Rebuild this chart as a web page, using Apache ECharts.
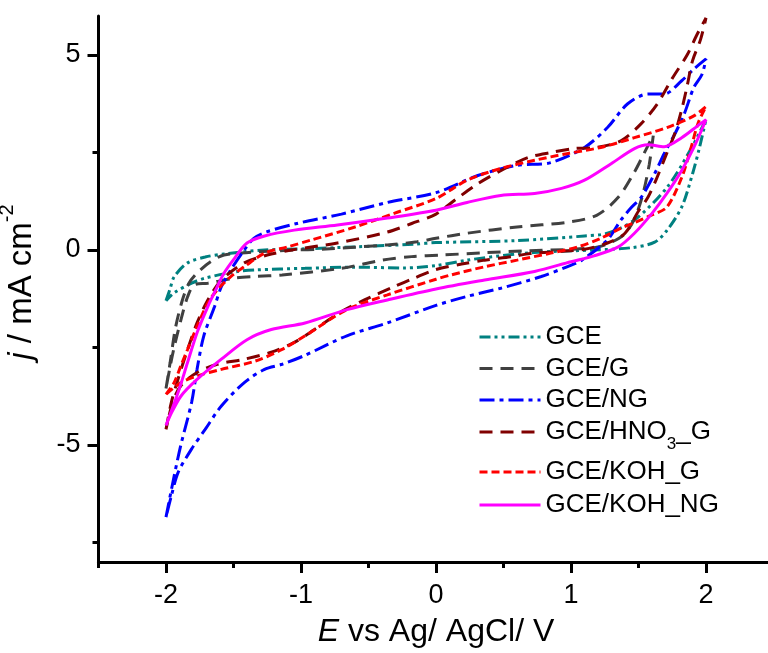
<!DOCTYPE html>
<html><head><meta charset="utf-8">
<script src="https://cdn.jsdelivr.net/npm/echarts@6/dist/echarts.min.js"></script>
<style>html,body{margin:0;padding:0;background:#fff}#c{width:768px;height:653px}</style>
</head><body><div id="c"></div>
<script>
// ---- data (E in V, j in mA cm^-2), each loop: forward scan then reverse scan ----
const seriesNames = ['GCE', 'GCE/G', 'GCE/NG', 'GCE/HNO3_G', 'GCE/KOH_G', 'GCE/KOH_NG'];

const gceE = [-2.0,-1.97,-1.94,-1.84,-1.71,-1.57,-1.27,-0.97,-0.6,-0.16,0.0,0.6,1.1,1.27,1.47,1.71,1.89,2.0,
  1.95,1.9,1.82,1.71,1.62,1.45,1.17,0.85,0.6,0.23,0.0,-0.23,-0.6,-0.97,-1.34,-1.47,-1.71,-1.81,-1.94,-2.0];
const gceJ = [-1.3,-1.0,-0.69,-0.33,-0.18,-0.1,0.0,0.03,0.08,0.15,0.19,0.24,0.36,0.43,0.77,1.6,2.6,3.35,
  2.6,1.95,1.1,0.5,0.2,0.06,0.0,-0.04,-0.1,-0.26,-0.4,-0.46,-0.44,-0.47,-0.51,-0.55,-0.72,-0.85,-1.1,-1.3];

const gE = [-2.0,-1.97,-1.93,-1.88,-1.83,-1.77,-1.67,-1.57,-1.37,-1.05,-0.85,-0.36,-0.14,0.0,0.23,0.6,0.97,1.19,1.35,1.47,1.54,1.61,
  1.58,1.53,1.47,1.4,1.3,1.2,1.02,0.68,0.36,0.04,-0.18,-0.4,-0.7,-1.14,-1.34,-1.49,-1.69,-1.79,-1.84,-1.89,-1.94,-1.97,-2.0];
const gJ = [-3.55,-2.9,-2.0,-1.3,-0.85,-0.59,-0.3,-0.13,-0.06,0.0,0.02,0.13,0.21,0.3,0.43,0.59,0.71,0.89,1.35,2.0,2.47,2.95,
  2.2,1.4,0.8,0.42,0.2,0.08,0.02,-0.02,-0.07,-0.13,-0.17,-0.26,-0.47,-0.64,-0.68,-0.72,-0.85,-0.89,-1.2,-1.8,-2.5,-3.0,-3.55];

const ngE = [-2.0,-1.94,-1.89,-1.81,-1.77,-1.72,-1.64,-1.59,-1.52,-1.42,-1.35,-1.25,-1.03,-0.7,-0.36,0.0,0.31,0.6,0.85,1.1,1.27,1.42,1.57,1.69,1.82,1.91,2.0,
  1.97,1.91,1.84,1.77,1.69,1.62,1.52,1.45,1.37,1.27,1.08,0.97,0.78,0.48,0.23,0.0,-0.36,-0.66,-0.97,-1.14,-1.27,-1.42,-1.59,-1.71,-1.81,-1.91,-1.96,-2.0];
const ngJ = [-6.85,-5.8,-5.0,-3.9,-3.06,-2.2,-1.45,-0.94,-0.51,0.0,0.3,0.47,0.68,0.92,1.22,1.47,1.91,2.17,2.24,2.63,3.14,3.75,4.0,4.0,4.34,4.64,4.9,
  4.5,4.17,3.5,2.98,2.47,1.96,1.35,1.1,0.77,0.26,-0.26,-0.43,-0.68,-0.98,-1.19,-1.42,-1.87,-2.2,-2.7,-2.93,-3.06,-3.4,-4.0,-4.6,-5.1,-5.7,-6.3,-6.85];

const hno3E = [-2.0,-1.96,-1.91,-1.84,-1.77,-1.69,-1.59,-1.42,-1.25,-1.07,-0.73,-0.36,-0.18,0.0,0.14,0.31,0.51,0.68,0.85,1.02,1.19,1.37,1.52,1.64,1.75,1.86,1.93,2.0,
  1.96,1.9,1.86,1.82,1.77,1.7,1.63,1.57,1.5,1.4,1.27,1.1,0.9,0.7,0.56,0.36,0.19,0.0,-0.16,-0.31,-0.53,-0.7,-0.9,-1.05,-1.22,-1.42,-1.62,-1.77,-1.89,-1.95,-2.0];
const hno3J = [-4.6,-3.9,-3.3,-2.55,-1.87,-1.28,-0.77,-0.33,-0.13,0.0,0.18,0.46,0.68,0.92,1.28,1.7,2.09,2.37,2.5,2.6,2.63,2.8,3.24,3.75,4.4,5.0,5.5,5.95,
  5.4,4.85,4.2,3.6,3.0,2.4,1.8,1.35,1.0,0.43,0.18,0.02,-0.04,-0.09,-0.17,-0.26,-0.36,-0.5,-0.72,-0.94,-1.28,-1.58,-2.04,-2.37,-2.62,-2.8,-2.93,-3.14,-3.48,-3.9,-4.6];

const kohgE = [-2.0,-1.94,-1.89,-1.84,-1.77,-1.69,-1.62,-1.52,-1.42,-1.27,-1.1,-0.92,-0.6,-0.31,0.0,0.23,0.48,0.73,0.97,1.22,1.47,1.71,1.91,2.0,
  1.94,1.89,1.82,1.71,1.6,1.47,1.37,1.22,1.05,0.85,0.6,0.36,0.11,0.0,-0.36,-0.66,-0.97,-1.14,-1.34,-1.59,-1.77,-1.89,-2.0];
const kohgJ = [-3.7,-3.4,-2.97,-2.55,-1.96,-1.36,-1.02,-0.68,-0.43,-0.08,0.08,0.26,0.59,0.94,1.32,1.79,2.09,2.3,2.47,2.63,2.88,3.14,3.44,3.68,
  3.24,2.63,1.86,1.1,0.9,0.7,0.56,0.3,0.08,-0.08,-0.26,-0.43,-0.64,-0.75,-1.15,-1.53,-2.2,-2.55,-2.85,-3.06,-3.23,-3.4,-3.7];

const kohngE = [-2.0,-1.91,-1.84,-1.77,-1.69,-1.62,-1.57,-1.49,-1.4,-1.27,-1.05,-0.73,-0.36,0.0,0.23,0.48,0.73,0.93,1.1,1.3,1.47,1.57,1.69,1.82,1.94,2.0,
  1.91,1.82,1.71,1.6,1.47,1.35,1.17,1.0,0.73,0.36,0.0,-0.36,-0.66,-0.97,-1.22,-1.4,-1.59,-1.77,-1.89,-1.97,-2.0];
const kohngJ = [-4.5,-3.65,-2.88,-2.12,-1.45,-0.94,-0.59,-0.2,0.18,0.36,0.51,0.64,0.82,1.02,1.22,1.4,1.45,1.58,1.79,2.22,2.6,2.7,2.65,2.88,3.19,3.34,
  2.63,2.04,1.45,0.94,0.43,0.08,-0.15,-0.3,-0.55,-0.77,-1.0,-1.28,-1.53,-1.87,-2.04,-2.3,-2.8,-3.32,-3.75,-4.25,-4.5];

// ---- ticks ----
const xMajorTicks = [-2, -1, 0, 1, 2];
const xMinorTicks = [-2.5, -1.5, -0.5, 0.5, 1.5, 2.5];
const yMajorTicks = [-5, 0, 5];
const yMinorTicks = [-7.5, -2.5, 2.5];

// ---- build ----
const zip = (e, j) => e.map((v, i) => [v, j[i]]);
const seriesData = [zip(gceE, gceJ), zip(gE, gJ), zip(ngE, ngJ), zip(hno3E, hno3J), zip(kohgE, kohgJ), zip(kohngE, kohngJ)];
const colors = ['#008080', '#404040', '#0000ff', '#800000', '#ff0000', '#ff00ff'];
const dashes = [[11,4,3,4,3,4], [13,8], [15,5,4,5], [13,8], [8,4], 'solid'];
const FONT = '"Liberation Sans", Arial, sans-serif';

const rowCenters = [337, 368.5, 400, 432, 472, 505];
const legendLH = [26, 26, 26, 42, 26, 26];
const legends = seriesNames.map((n, i) => ({
  data: [n],
  left: 478,
  top: rowCenters[i] - legendLH[i] / 2,
  padding: 0,
  itemWidth: 61,
  itemHeight: 14,
  selectedMode: false,
  itemStyle: { opacity: 0 },
  lineStyle: { width: 3 },
  textStyle: {
    fontSize: 26, color: '#000', fontFamily: FONT, lineHeight: legendLH[i],
    rich: { sub: { fontSize: 17, lineHeight: 17, verticalAlign: 'bottom', fontFamily: FONT, color: '#000' } }
  },
  formatter: name => name.replace('HNO3', 'HNO{sub|3}')
}));

const axisBase = {
  type: 'value',
  splitLine: { show: false },
  axisLine: { show: true, onZero: false, lineStyle: { color: '#000', width: 3 } }
};

const option = {
  backgroundColor: '#fff',
  animation: false,
  grid: { left: 98.5, top: 16, width: 675, height: 546, containLabel: false, outerBoundsMode: 'none' },
  legend: legends,
  xAxis: [
    Object.assign({}, axisBase, {
      min: -2.5, max: 2.5, position: 'bottom',
      axisTick: { customValues: xMajorTicks, length: 11, lineStyle: { color: '#000', width: 3 } },
      axisLabel: { customValues: xMajorTicks, fontSize: 27, margin: 20, color: '#000', fontFamily: FONT },
      name: '{i|E} vs Ag/ AgCl/ V', nameLocation: 'middle', nameGap: 54,
      nameTextStyle: { fontSize: 32, color: '#000', fontFamily: FONT,
        rich: { i: { fontStyle: 'italic', fontSize: 32, color: '#000', fontFamily: FONT } } }
    }),
    Object.assign({}, axisBase, {
      min: -2.5, max: 2.5, position: 'bottom', offset: 0,
      axisLine: { show: false, onZero: false },
      axisTick: { customValues: xMinorTicks, length: 6, lineStyle: { color: '#000', width: 3 } },
      axisLabel: { show: false }
    })
  ],
  yAxis: [
    Object.assign({}, axisBase, {
      min: -8, max: 6, position: 'left',
      axisTick: { customValues: yMajorTicks, length: 11, lineStyle: { color: '#000', width: 3 } },
      axisLabel: { customValues: yMajorTicks, fontSize: 27, margin: 18, color: '#000', fontFamily: FONT },
      name: '{i|j} / mA cm{sup|-2}', nameLocation: 'middle', nameGap: 45, nameRotate: 90,
      nameTextStyle: { fontSize: 33, lineHeight: 48, color: '#000', fontFamily: FONT, padding: [0, 0, 0, 14],
        rich: {
          i: { fontStyle: 'italic', fontSize: 33, lineHeight: 48, color: '#000', fontFamily: FONT },
          sup: { fontSize: 20, lineHeight: 20, verticalAlign: 'top', color: '#000', fontFamily: FONT }
        } }
    }),
    Object.assign({}, axisBase, {
      min: -8, max: 6, position: 'left', offset: 0,
      axisLine: { show: false, onZero: false },
      axisTick: { customValues: yMinorTicks, length: 6, lineStyle: { color: '#000', width: 3 } },
      axisLabel: { show: false }
    })
  ],
  series: seriesNames.map((n, i) => ({
    name: n, type: 'line', xAxisIndex: 0, yAxisIndex: 0,
    data: seriesData[i], symbol: 'none', smooth: 0.3,
    itemStyle: { color: colors[i] },
    lineStyle: { color: colors[i], width: 3, type: dashes[i] }
  }))
};

const chart = echarts.init(document.getElementById('c'), null, { renderer: 'canvas' });
chart.setOption(option);
</script>
</body></html>
